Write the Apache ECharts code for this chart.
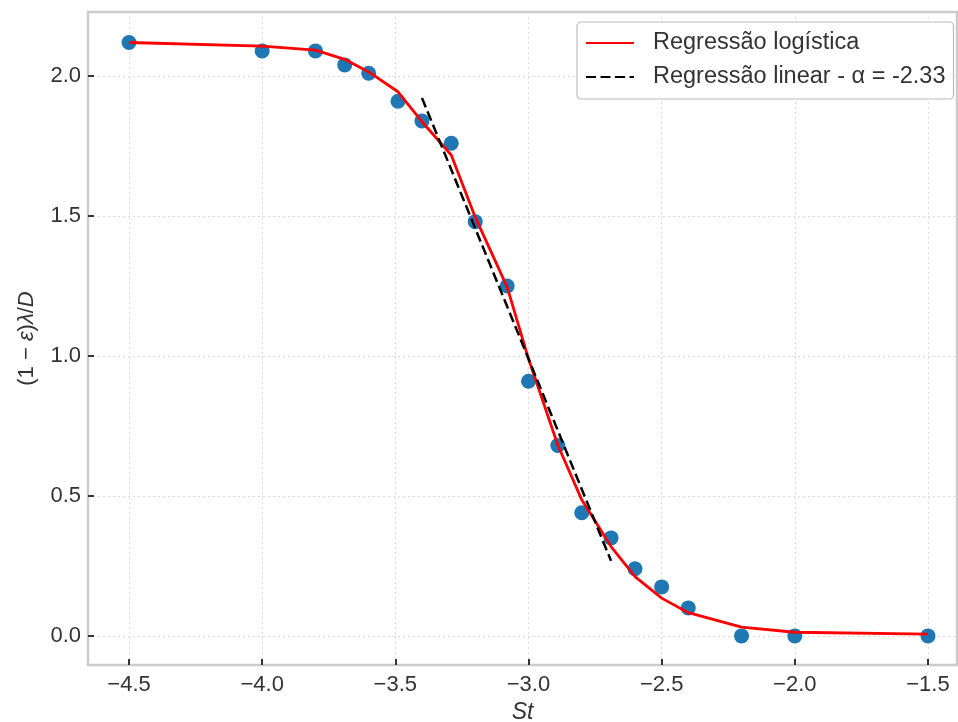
<!DOCTYPE html>
<html>
<head>
<meta charset="utf-8">
<script src="https://cdn.jsdelivr.net/npm/echarts@6/dist/echarts.min.js"></script>
<style>
  html, body { margin: 0; padding: 0; background: #fff; }
  #chart-container { width: 958px; height: 722px; }
</style>
</head>
<body>
<div id="chart-container"></div>
<script>
// measured points
var stValues = [-4.5, -4.0, -3.8, -3.69, -3.6, -3.49, -3.4, -3.29, -3.2, -3.08, -3.0,
  -2.89, -2.8, -2.69, -2.6, -2.5, -2.4, -2.2, -2.0, -1.5];
var yValues = [2.12, 2.09, 2.09, 2.04, 2.01, 1.91, 1.84, 1.76, 1.48, 1.25, 0.91,
  0.68, 0.44, 0.35, 0.24, 0.175, 0.10, 0.0, 0.0, 0.0];
// logistic fit, read at the same St values
var logisticY = [2.12, 2.107, 2.093, 2.06, 2.015, 1.944, 1.837, 1.718, 1.496, 1.246, 0.99,
  0.682, 0.486, 0.319, 0.212, 0.135, 0.083, 0.031, 0.013, 0.006];
// linear fit segment
var linearX = [-3.4, -2.69];
var linearY = [1.922, 0.268];
var xTicks = [-4.5, -4.0, -3.5, -3.0, -2.5, -2.0, -1.5];
var yTicks = [0.0, 0.5, 1.0, 1.5, 2.0];

function pairs(xs, ys) {
  return xs.map(function (x, i) { return [x, ys[i]]; });
}
function fmt(v) {
  return v.toFixed(1).replace('-', '\u2212');
}

var dom = document.getElementById('chart-container');
var myChart = echarts.init(dom, null, { renderer: 'canvas' });

var gridLine = { show: true, lineStyle: { color: '#dcdcdc', type: [2, 3], width: 1 } };
var tickStyle = { color: '#333', width: 2 };

var option = {
  animation: false,
  backgroundColor: '#fff',
  textStyle: { fontFamily: 'Liberation Sans' },
  grid: {
    left: 88, right: 1, top: 12, bottom: 57,
    outerBoundsMode: 'none',
    containLabel: false,
    show: true, borderColor: '#cccccc', borderWidth: 2.5
  },
  legend: {
    data: ['Regressão logística', 'Regressão linear - α = -2.33'],
    orient: 'vertical',
    left: 577, top: 22,
    padding: [9, 8, 10, 8],
    itemGap: 10,
    itemWidth: 48, itemHeight: 14,
    itemStyle: { opacity: 0 },
    backgroundColor: '#fff',
    borderColor: '#bbbbbb', borderWidth: 1.2, borderRadius: 4,
    textStyle: { fontSize: 23.5, color: '#333', padding: [0, 0, 0, 14] }
  },
  xAxis: {
    type: 'value',
    min: -4.654, max: -1.391,
    name: 'St',
    nameLocation: 'middle',
    nameGap: 36,
    nameTextStyle: { fontSize: 23, fontStyle: 'italic', color: '#333' },
    axisLine: { show: false, onZero: false },
    axisTick: { show: true, inside: true, customValues: xTicks, length: 6, lineStyle: tickStyle },
    axisLabel: { customValues: xTicks, formatter: fmt, fontSize: 22, color: '#333', margin: 9 },
    splitLine: gridLine
  },
  yAxis: {
    type: 'value',
    min: -0.104, max: 2.229,
    name: '{n|(1 − }{i|ε}{n|)}{i|λ}{n|/}{i|D}',
    nameLocation: 'middle',
    nameGap: 50,
    nameTextStyle: {
      rich: {
        n: { fontSize: 22, color: '#333' },
        i: { fontSize: 22, color: '#333', fontStyle: 'italic' }
      }
    },
    axisLine: { show: false, onZero: false },
    axisTick: { show: true, inside: true, customValues: yTicks, length: 6, lineStyle: tickStyle },
    axisLabel: { customValues: yTicks, formatter: fmt, fontSize: 22, color: '#333', margin: 7 },
    splitLine: gridLine
  },
  series: [
    {
      name: 'dados',
      type: 'scatter',
      data: pairs(stValues, yValues),
      symbolSize: 15,
      itemStyle: { color: '#1f77b4', opacity: 1 },
      z: 2
    },
    {
      name: 'Regressão logística',
      type: 'line',
      data: pairs(stValues, logisticY),
      symbol: 'none',
      lineStyle: { color: '#ff0000', width: 2.8 },
      itemStyle: { color: '#ff0000' },
      z: 3
    },
    {
      name: 'Regressão linear - α = -2.33',
      type: 'line',
      data: pairs(linearX, linearY),
      symbol: 'none',
      lineStyle: { color: '#000', width: 2.5, type: [10, 4.5] },
      itemStyle: { color: '#000' },
      z: 4
    }
  ]
};

myChart.setOption(option);
window.addEventListener('resize', myChart.resize);
</script>
</body>
</html>
